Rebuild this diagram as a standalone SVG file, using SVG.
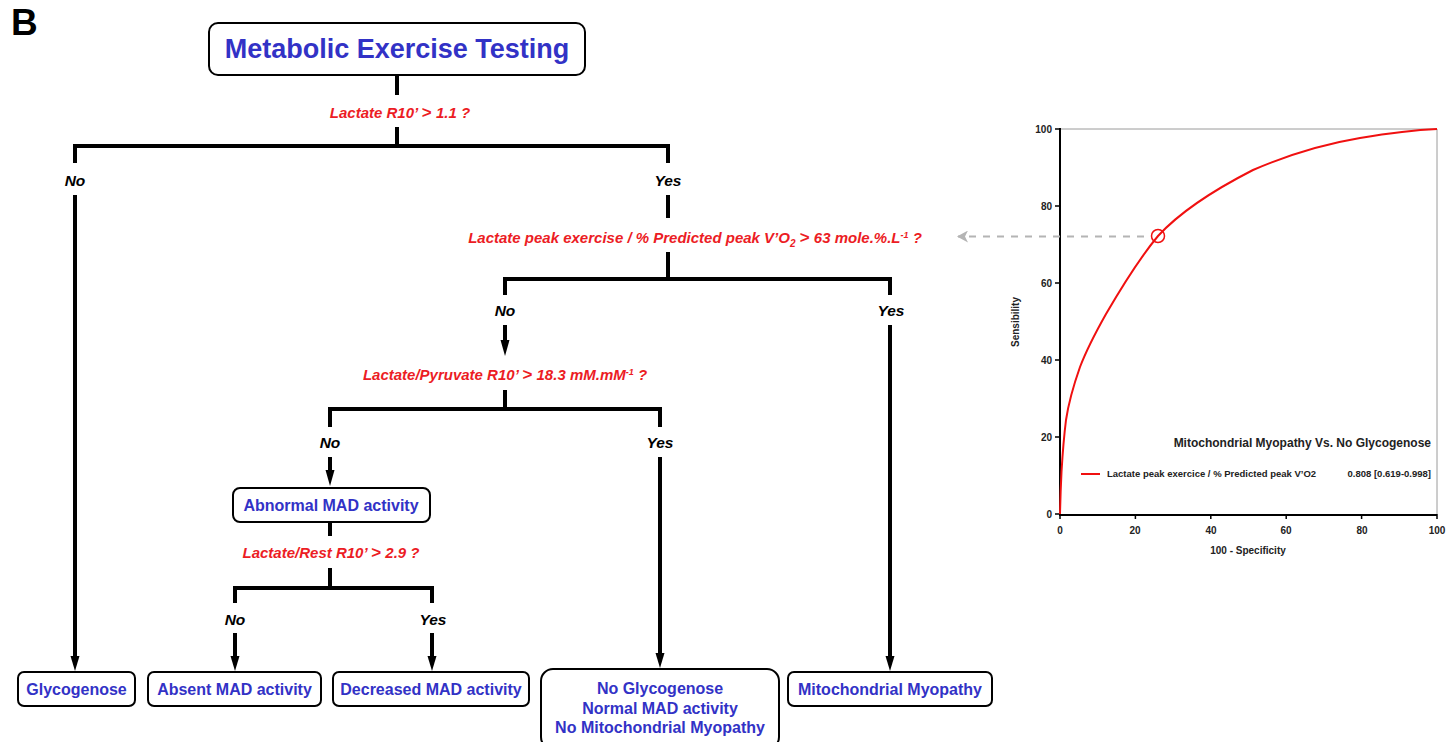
<svg xmlns="http://www.w3.org/2000/svg" width="1456" height="742" viewBox="0 0 1456 742">
<defs>
<style>
.box{fill:#fff;stroke:#000;stroke-width:2}
.bt{font-family:"Liberation Sans",Arial,sans-serif;font-weight:bold;fill:#3232c6;text-anchor:middle}
.q{font-family:"Liberation Sans",Arial,sans-serif;font-weight:bold;font-style:italic;fill:#ec1c24;font-size:15px;text-anchor:middle}
.gt{font-size:17px;font-style:normal}
.yn{font-family:"Liberation Sans",Arial,sans-serif;font-weight:bold;font-style:italic;fill:#000;font-size:15.5px;text-anchor:middle}
.ln{stroke:#000;stroke-width:4;fill:none}
.ax{font-family:"Liberation Sans",Arial,sans-serif;font-weight:bold;fill:#222;font-size:10px}
</style>
<marker id="gh" viewBox="0 0 12 12" refX="11" refY="6" markerWidth="12" markerHeight="12" markerUnits="userSpaceOnUse" orient="auto">
<path d="M12,6 L1,0 L4,6 L1,12 z" fill="#b4b4b4"/>
</marker>
</defs>
<rect width="1456" height="742" fill="#fff"/>
<text x="11" y="35" font-family="Liberation Sans,Arial,sans-serif" font-weight="bold" font-size="37" fill="#000">B</text>

<g id="connectors">
<path class="ln" d="M397,75 V95 M397,127 V148 M75,146 H668 M75,144 V163 M668,144 V163 M668,195 V218 M668,252 V281 M505,279 H890 M505,277 V295 M890,277 V295 M505,390 V411 M330,409 H660 M330,407 V427 M660,407 V427 M330,522 V536 M330,568 V590 M235,588 H432 M235,586 V603 M432,586 V603"/>
<g fill="#000">
<line class="ln" x1="75" y1="195" x2="75" y2="658"/><path d="M70.5,656 L79.5,656 L75,671 z"/>
<line class="ln" x1="505" y1="325" x2="505" y2="342"/><path d="M500.5,340 L509.5,340 L505,356 z"/>
<line class="ln" x1="890" y1="325" x2="890" y2="658"/><path d="M885.5,656 L894.5,656 L890,671 z"/>
<line class="ln" x1="330" y1="457" x2="330" y2="472"/><path d="M325.5,470 L334.5,470 L330,486 z"/>
<line class="ln" x1="660" y1="457" x2="660" y2="655"/><path d="M655.5,653 L664.5,653 L660,668 z"/>
<line class="ln" x1="235" y1="633" x2="235" y2="658"/><path d="M230.5,656 L239.5,656 L235,671 z"/>
<line class="ln" x1="432" y1="633" x2="432" y2="658"/><path d="M427.5,656 L436.5,656 L432,671 z"/>
</g>
</g>

<g id="labels">
<text class="q" x="400" y="118">Lactate R10’ <tspan class="gt">&gt;</tspan> 1.1 ?</text>
<text class="q" x="695" y="243">Lactate peak exercise / % Predicted peak V’O<tspan font-size="10" dy="4">2</tspan><tspan dy="-4"> </tspan><tspan class="gt">&gt;</tspan> 63 mole.%.L<tspan font-size="9" dy="-5">-1</tspan><tspan dy="5"> ?</tspan></text>
<text class="q" x="505" y="380">Lactate/Pyruvate R10’ <tspan class="gt">&gt;</tspan> 18.3 mM.mM<tspan font-size="9" dy="-5">-1</tspan><tspan dy="5"> ?</tspan></text>
<text class="q" x="331" y="558">Lactate/Rest R10’ <tspan class="gt">&gt;</tspan> 2.9 ?</text>
<text class="yn" x="75" y="186">No</text>
<text class="yn" x="668" y="186">Yes</text>
<text class="yn" x="505" y="316">No</text>
<text class="yn" x="891" y="316">Yes</text>
<text class="yn" x="330" y="448">No</text>
<text class="yn" x="660" y="448">Yes</text>
<text class="yn" x="235" y="625">No</text>
<text class="yn" x="433" y="625">Yes</text>
</g>

<g id="n-title"><rect class="box" x="209" y="23" width="376" height="52" rx="9"/><text class="bt" x="397" y="58" font-size="27">Metabolic Exercise Testing</text></g>
<g id="n-abnormal"><rect class="box" x="233" y="488" width="197" height="34" rx="7"/><text class="bt" x="331" y="511" font-size="16">Abnormal MAD activity</text></g>
<g id="n-glyco"><rect class="box" x="18" y="672" width="117" height="34" rx="6"/><text class="bt" x="76.5" y="695" font-size="16">Glycogenose</text></g>
<g id="n-absent"><rect class="box" x="148" y="672" width="173" height="34" rx="6"/><text class="bt" x="234.5" y="695" font-size="16">Absent MAD activity</text></g>
<g id="n-decreased"><rect class="box" x="333" y="672" width="196" height="34" rx="6"/><text class="bt" x="431" y="695" font-size="16">Decreased MAD activity</text></g>
<g id="n-normal"><rect class="box" x="541" y="669" width="238" height="80" rx="12"/><text class="bt" x="660" y="694" font-size="16">No Glycogenose</text><text class="bt" x="660" y="714" font-size="16">Normal MAD activity</text><text class="bt" x="660" y="733" font-size="16">No Mitochondrial Myopathy</text></g>
<g id="n-mito"><rect class="box" x="788" y="672" width="204" height="34" rx="6"/><text class="bt" x="890" y="695" font-size="16">Mitochondrial Myopathy</text></g>

<g id="chart">
<path d="M1060,129 H1437 V514" fill="none" stroke="#9a9a9a" stroke-width="1"/>
<path d="M1060,128 V515 H1437" fill="none" stroke="#000" stroke-width="2"/>
<path d="M1055,129 H1060 M1055,206 H1060 M1055,283 H1060 M1055,360 H1060 M1055,437 H1060 M1055,514 H1060 M1060,514 V519 M1135.4,514 V519 M1210.8,514 V519 M1286.2,514 V519 M1361.6,514 V519 M1437,514 V519" stroke="#000" stroke-width="1.5"/>
<g class="ax" text-anchor="end">
<text x="1052" y="133">100</text><text x="1052" y="210">80</text><text x="1052" y="287">60</text><text x="1052" y="364">40</text><text x="1052" y="441">20</text><text x="1052" y="518">0</text>
</g>
<g class="ax" text-anchor="middle">
<text x="1060" y="534">0</text><text x="1135" y="534">20</text><text x="1211" y="534">40</text><text x="1286" y="534">60</text><text x="1362" y="534">80</text><text x="1437" y="534">100</text>
<text x="1248" y="554">100 - Specificity</text>
<text x="0" y="0" transform="translate(1019 322) rotate(-90)">Sensibility</text>
</g>
<path fill="none" stroke="#f01010" stroke-width="2" stroke-linejoin="round" d="M1060,514 C1060.3,500 1060.8,486 1061.5,472 C1062.5,455 1064,436 1066,420 C1069,400 1074,384 1080,367 C1088,346 1097,330 1106,314 C1120,290 1138,260 1158,236 C1180,212 1210,192 1253,170 C1290,154 1330,143 1360,138 C1390,133 1415,130 1437,129"/>
<circle cx="1158" cy="236" r="6.5" fill="none" stroke="#f01010" stroke-width="1.5"/>
<line x1="1144" y1="236.5" x2="958" y2="236.5" stroke="#b4b4b4" stroke-width="2" stroke-dasharray="7,7" marker-end="url(#gh)"/>
<text x="1431" y="447" font-family="Liberation Sans,Arial,sans-serif" font-weight="bold" font-size="12" fill="#222" text-anchor="end">Mitochondrial Myopathy Vs. No Glycogenose</text>
<line x1="1081" y1="474" x2="1100" y2="474" stroke="#f01010" stroke-width="2"/>
<text x="1107" y="477" font-family="Liberation Sans,Arial,sans-serif" font-weight="bold" font-size="9.5" fill="#222">Lactate peak exercice / % Predicted peak V’O2</text>
<text x="1431" y="477" font-family="Liberation Sans,Arial,sans-serif" font-weight="bold" font-size="9.5" fill="#222" text-anchor="end">0.808 [0.619-0.998]</text>
</g>
</svg>
